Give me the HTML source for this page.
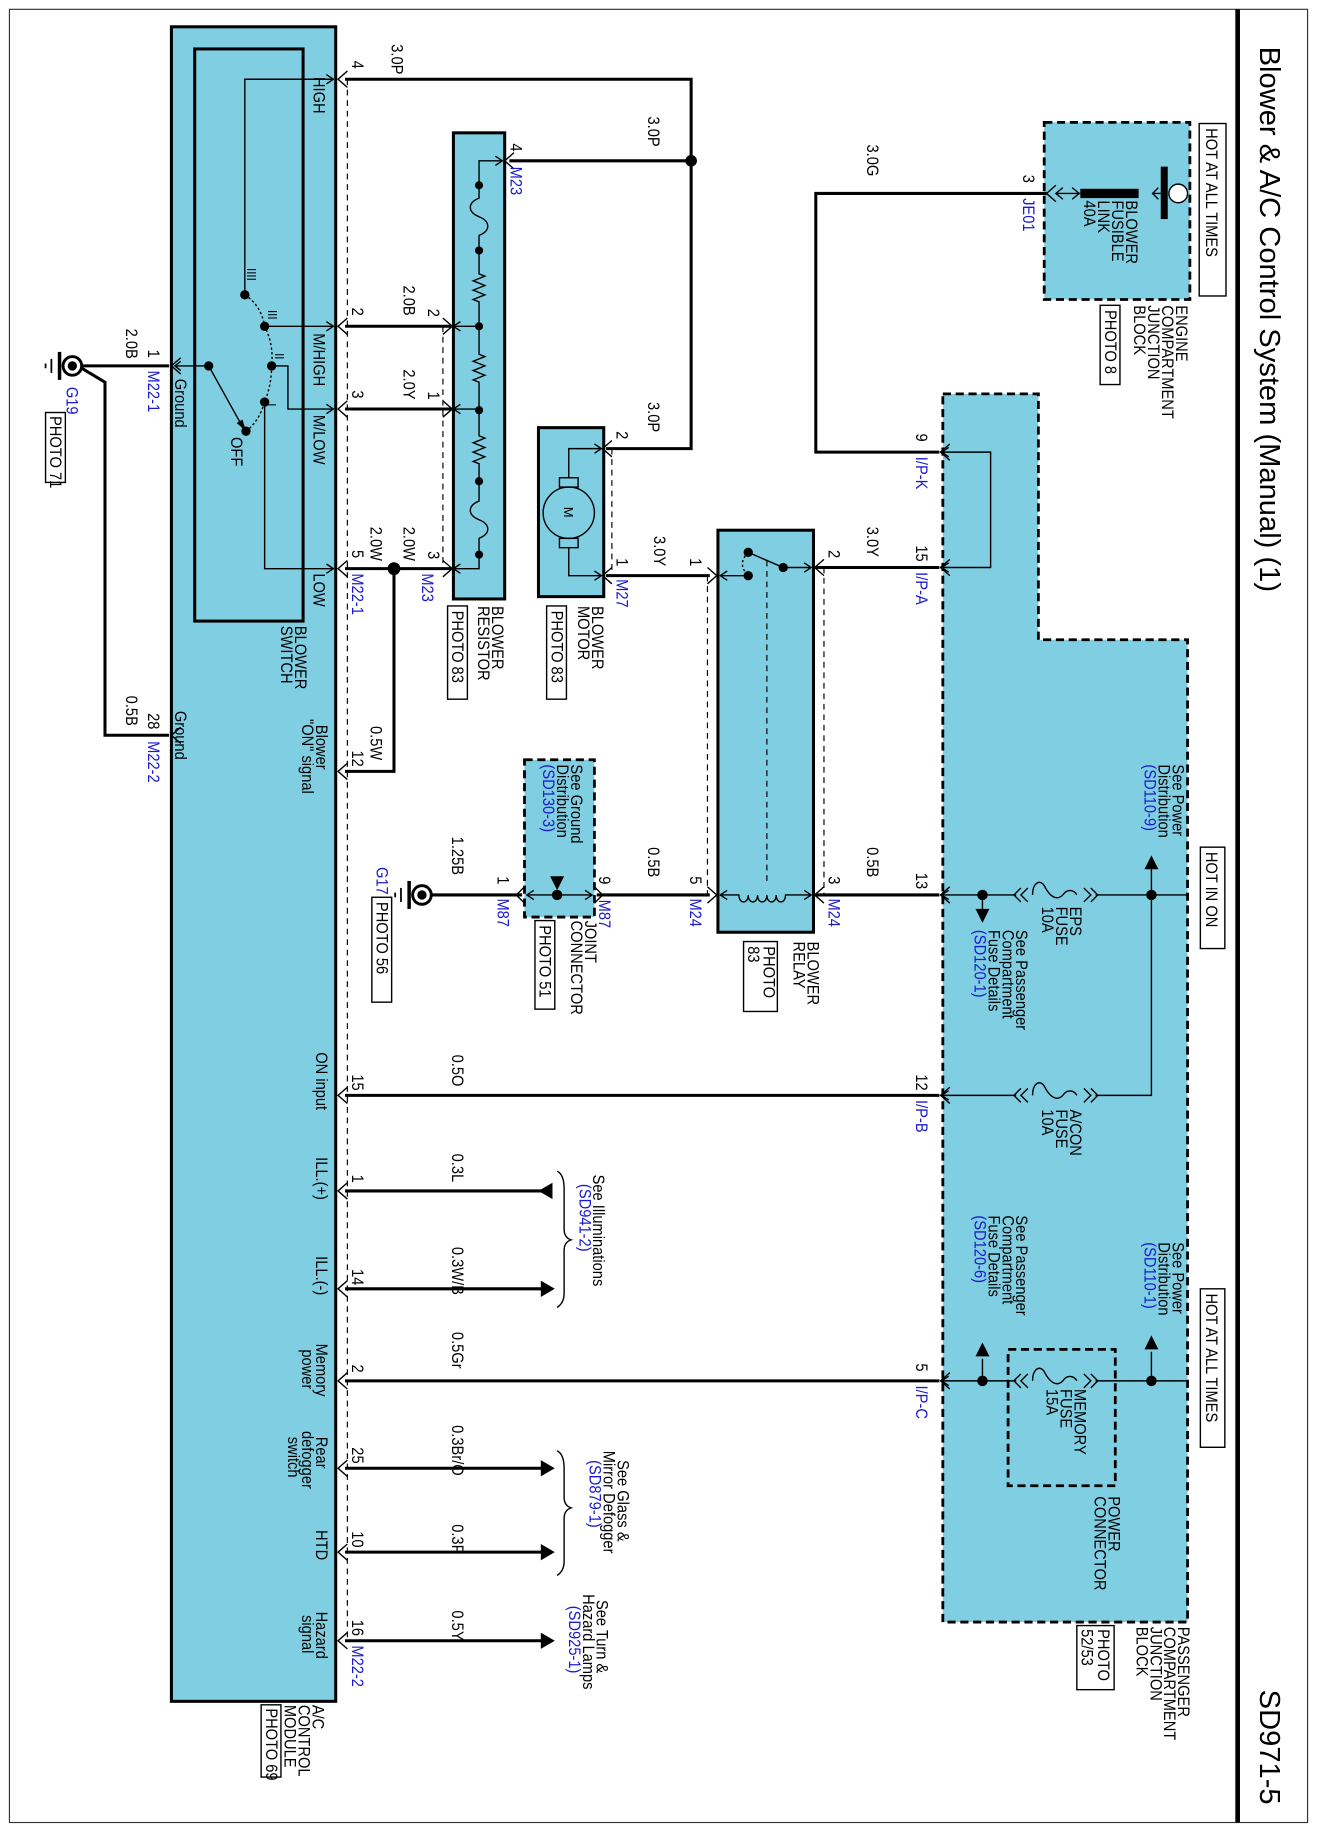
<!DOCTYPE html>
<html><head><meta charset="utf-8"><style>
html,body{margin:0;padding:0;background:#fff;}
svg{display:block;}
text{font-family:"Liberation Sans",Arial,sans-serif;font-size:14px;fill:#000;}
.b{fill:#1a1ad0;}
.w{stroke:#000;stroke-width:2.6;fill:none;}
.t{stroke:#000;stroke-width:1.2;fill:none;}
.d{stroke:#000;stroke-width:1;fill:none;stroke-dasharray:5,4;}
.db{stroke:#000;stroke-width:2.4;stroke-dasharray:7,4;}
</style></head><body>
<svg width="1317" height="1833" viewBox="0 0 1130 1573" xmlns="http://www.w3.org/2000/svg">
<rect x="0" y="0" width="1130" height="1573" fill="#fff"/>
<rect x="8" y="8" width="1114" height="1556" fill="none" stroke="#333" stroke-width="1"/>
<line x1="1062" y1="8" x2="1062" y2="1564" stroke="#000" stroke-width="4"/>
<text transform="translate(1081,40) rotate(90)" style="font-size:25px">Blower &amp; A/C Control System (Manual) (1)</text>
<text transform="translate(1081,1450) rotate(90)" style="font-size:25px">SD971-5</text>

<path d="M809,338 L891,338 L891,549 L1019,549 L1019,1392 L809,1392 Z" fill="#80cee2" class="db"/>
<rect x="896" y="105" width="125" height="152" fill="#80cee2" class="db"/>
<rect x="147" y="23" width="141" height="1437" fill="#80cee2" stroke="#000" stroke-width="2.6"/>
<rect x="167" y="42" width="93" height="491" fill="none" stroke="#000" stroke-width="2.6"/>
<rect x="389" y="114" width="44" height="400" fill="#80cee2" stroke="#000" stroke-width="2.6"/>
<rect x="462" y="367" width="56" height="145" fill="#80cee2" stroke="#000" stroke-width="2.6"/>
<rect x="616" y="455" width="82" height="345" fill="#80cee2" stroke="#000" stroke-width="2.6"/>
<rect x="450" y="652" width="60" height="135" fill="#80cee2" class="db"/>
<rect x="865" y="1158" width="92" height="117" fill="none" class="db"/>

<line x1="298" y1="68" x2="298" y2="1408" class="d"/>
<line x1="380" y1="280" x2="380" y2="488" class="d"/>
<line x1="525" y1="385" x2="525" y2="494" class="d"/>
<line x1="607" y1="494" x2="607" y2="768" class="d"/>
<line x1="707" y1="487" x2="707" y2="768" class="d"/>
<line x1="658" y1="481" x2="658" y2="760" class="d"/>

<path d="M296,68 H593 V385 H520" class="w"/>
<path d="M593,138 H437" class="w"/>
<circle cx="593" cy="138" r="5"/>
<path d="M296,280 H387 M296,351 H387 M296,488 H387" class="w"/>
<path d="M338,488 V662 H296" class="w"/>
<circle cx="338" cy="488" r="5.5"/>
<path d="M520,494 H609" class="w"/>
<path d="M700,487 H806" class="w"/>
<path d="M898,166 H700 V388 H806" class="w"/>
<path d="M700,768 H806" class="w"/>
<path d="M609,768 H512" class="w"/>
<path d="M448,768 H370" class="w"/>
<path d="M296,940 H806" class="w"/>
<path d="M296,1185 H806" class="w"/>
<path d="M296,1022 H470 M296,1106 H465 M296,1260 H465 M296,1332 H465 M296,1408 H465" class="w"/>
<polygon points="462,1022 474,1015 474,1029"/>
<polygon points="476,1106 464,1099 464,1113"/>
<polygon points="476,1260 464,1253 464,1267"/>
<polygon points="476,1332 464,1325 464,1339"/>
<polygon points="476,1408 464,1401 464,1415"/>
<path d="M478,1005 Q484,1008 484,1020 V1055 Q484,1062 490,1064 Q484,1066 484,1073 V1110 Q484,1118 478,1122" class="t"/>
<path d="M478,1245 Q484,1248 484,1260 V1285 Q484,1292 490,1294 Q484,1296 484,1303 V1340 Q484,1348 478,1352" class="t"/>
<path d="M70,314 H145 M70,316 L90,328 V631 H145" class="w"/>

<g class="t">
<path d="M298,61 L290,68 L298,75 M298,273 L290,280 L298,287 M298,344 L290,351 L298,358 M298,481 L290,488 L298,495 M298,655 L290,662 L298,669 M298,933 L290,940 L298,947 M298,1015 L290,1022 L298,1029 M298,1099 L290,1106 L298,1113 M298,1178 L290,1185 L298,1192 M298,1253 L290,1260 L298,1267 M298,1325 L290,1332 L298,1339 M298,1401 L290,1408 L298,1415"/>
<path d="M155,307 L147,314 L155,321 M155,624 L147,631 L155,638"/>
<path d="M441,131 L433,138 L441,145 M380,273 L388,280 L380,287 M380,344 L388,351 L380,358 M380,481 L388,488 L380,495"/>
<path d="M525,378 L517,385 L525,392 M525,487 L517,494 L525,501"/>
<path d="M607,487 L615,494 L607,501 M707,480 L699,487 L707,494 M607,761 L615,768 L607,775 M707,761 L699,768 L707,775"/>
<path d="M450,761 L443,768 L450,775 M510,761 L517,768 L510,775"/>
<path d="M815,381 L807,388 L815,395 M815,480 L807,487 L815,494 M815,761 L807,768 L815,775 M815,933 L807,940 L815,947 M815,1178 L807,1185 L815,1192"/>
<path d="M906,159 L898,166 L906,173"/>
</g>

<g class="t">
<path d="M286,68 H210 V253"/><path d="M280,64 L286,68 L280,72"/>
<path d="M227,280 H286"/><path d="M280,276 L286,280 L280,284"/>
<path d="M233,314 H247 V351 H286"/><path d="M280,347 L286,351 L280,355"/>
<path d="M227,345 V488 H286"/><path d="M280,484 L286,488 L280,492"/>
<path d="M150,314 H179 L209,368"/><path d="M155,310 L150,314 L155,318"/>
<path d="M210,253 Q224,262 227,280 Q235,296 233,314 Q233,330 227,345 Q222,362 211,370" stroke-dasharray="2,2"/>
</g>
<polygon points="211,370 203,363 208,360"/>
<circle cx="210" cy="253" r="4"/><circle cx="227" cy="280" r="4"/><circle cx="233" cy="314" r="4"/><circle cx="227" cy="345" r="4"/><circle cx="179" cy="314" r="4"/><circle cx="211" cy="370" r="4"/>
<text transform="translate(212,230) rotate(90) scale(0.9,1)" style="font-size:11px">IIII</text>
<text transform="translate(230,266) rotate(90) scale(0.9,1)" style="font-size:11px">III</text>
<text transform="translate(236,303) rotate(90) scale(0.9,1)" style="font-size:11px">II</text>
<text transform="translate(229,346) rotate(90) scale(0.9,1)" style="font-size:11px">I</text>
<text transform="translate(198,375) rotate(90) scale(0.9,1)">OFF</text>

<g class="t">
<path d="M431,138 H411 V170 c-10,4 -10,12 0,16 c10,4 10,12 0,16 V235 l5,2 l-10,4 l10,4 l-10,4 l10,4 l-10,4 l5,2 V304 l5,2 l-10,4 l10,4 l-10,4 l10,4 l-10,4 l5,2 V374 l5,2 l-10,4 l10,4 l-10,4 l10,4 l-10,4 l5,2 V430 c-10,4 -10,12 0,16 c10,4 10,12 0,16 V488 H389"/>
<path d="M411,280 H389 M411,351 H389"/>
<path d="M425,134 L431,138 L425,142 M395,276 L389,280 L395,284 M395,347 L389,351 L395,355 M395,484 L389,488 L395,492"/>
</g>
<circle cx="411" cy="159" r="3.5"/><circle cx="411" cy="215" r="3.5"/><circle cx="411" cy="280" r="3.5"/><circle cx="411" cy="352" r="3.5"/><circle cx="411" cy="413" r="3.5"/><circle cx="411" cy="476" r="3.5"/>

<g class="t">
<path d="M516,385 H488 V410 M488,470 V494 H516 M510,381 L516,385 L510,389 M510,490 L516,494 L510,498"/>
<circle cx="488" cy="440" r="22"/>
<rect x="480" y="410" width="16" height="8"/><rect x="480" y="462" width="16" height="8"/>
</g>
<text transform="translate(484,435) rotate(90)" style="font-size:11px">M</text>

<g class="t">
<path d="M642,474 L672,487 H696 M690,483 L696,487 L690,491 M642,494 H618 M624,490 L618,494 L624,498"/>
<path d="M642,474 Q632,484 642,494" stroke-dasharray="2,2"/>
<path d="M618,768 H634 c0,8 8,8 8,0 c0,8 8,8 8,0 c0,8 8,8 8,0 c0,8 8,8 8,0 c0,8 8,8 8,0 H696 M624,764 L618,768 L624,772 M690,764 L696,768 L690,772"/>
</g>
<circle cx="642" cy="474" r="4"/><circle cx="672" cy="487" r="4"/><circle cx="642" cy="494" r="4"/>

<g class="t"><path d="M452,768 H508 M458,764 L452,768 L458,772 M502,764 L508,768 L502,772"/></g>
<circle cx="478" cy="768" r="4.5"/>
<polygon points="478,764 472,752 484,752"/>

<g>
<circle cx="62" cy="314" r="8" fill="none" stroke="#000" stroke-width="2.5"/><circle cx="62" cy="314" r="4"/>
<line x1="51" y1="302" x2="51" y2="326" stroke="#000" stroke-width="3"/>
<line x1="44" y1="308" x2="44" y2="320" stroke="#000" stroke-width="1.5"/>
<line x1="39" y1="312" x2="39" y2="316" stroke="#000" stroke-width="1.5"/>
<circle cx="362" cy="768" r="8" fill="none" stroke="#000" stroke-width="2.5"/><circle cx="362" cy="768" r="4"/>
<line x1="351" y1="756" x2="351" y2="780" stroke="#000" stroke-width="3"/>
<line x1="344" y1="762" x2="344" y2="774" stroke="#000" stroke-width="1.5"/>
<line x1="339" y1="766" x2="339" y2="770" stroke="#000" stroke-width="1.5"/>
</g>

<circle cx="1011" cy="166" r="8" fill="#fff" stroke="#000" stroke-width="1.2"/>
<rect x="996" y="143" width="6" height="45"/>
<rect x="927" y="162" width="50" height="8"/>
<g class="t"><path d="M906,166 H927 M912,161 L906,166 L912,171 M920,161 L926,166 L920,171 M996,166 H989 M994,161 L989,166 L994,171"/></g>
<rect x="1029" y="106" width="23" height="148" fill="#fff" stroke="#000" stroke-width="1.2"/>

<g class="t">
<path d="M808,388 H850 V487 H808 M814,384 L808,388 L814,392 M814,483 L808,487 L814,491"/>
<path d="M808,768 H872 M886,768 c0,-10 6,-14 10,-8 c4,8 10,14 16,8 c4,-6 10,-4 12,0 M940,768 H1019 M843,768 V784 M988,768 V746 M988,768 V940 H940 M872,940 H808"/>
<path d="M876,762 L870,768 L876,774 M882,762 L876,768 L882,774 M930,762 L936,768 L930,774 M936,762 L942,768 L936,774"/>
<path d="M886,940 c0,-10 6,-14 10,-8 c4,8 10,14 16,8 c4,-6 10,-4 12,0"/>
<path d="M876,934 L870,940 L876,946 M882,934 L876,940 L882,946 M930,934 L936,940 L930,946 M936,934 L942,940 L936,946"/>
<path d="M814,764 L808,768 L814,772 M814,936 L808,940 L814,944"/>
<path d="M808,1185 H872 M940,1185 H1019 M843,1185 V1166 M988,1185 V1160"/>
<path d="M886,1185 c0,-10 6,-14 10,-8 c4,8 10,14 16,8 c4,-6 10,-4 12,0"/>
<path d="M876,1179 L870,1185 L876,1191 M882,1179 L876,1185 L882,1191 M930,1179 L936,1185 L930,1191 M936,1179 L942,1185 L936,1191 M814,1181 L808,1185 L814,1189"/>
</g>
<circle cx="843" cy="768" r="4.5"/><circle cx="988" cy="768" r="4.5"/><circle cx="843" cy="1185" r="4.5"/><circle cx="988" cy="1185" r="4.5"/>
<polygon points="843,792 837,780 849,780"/>
<polygon points="988,734 982,746 994,746"/>
<polygon points="843,1152 837,1164 849,1164"/>
<polygon points="988,1146 982,1158 994,1158"/>
<rect x="1030" y="727" width="21" height="87" fill="#fff" stroke="#000" stroke-width="1.2"/>
<rect x="1030" y="1106" width="21" height="136" fill="#fff" stroke="#000" stroke-width="1.2"/>

<g fill="#fff" stroke="#000" stroke-width="1.2">
<rect x="39" y="354" width="17" height="60"/>
<rect x="384" y="520" width="17" height="80"/>
<rect x="469" y="520" width="17" height="80"/>
<rect x="638" y="808" width="29" height="60"/>
<rect x="459" y="790" width="17" height="76"/>
<rect x="319" y="770" width="17" height="90"/>
<rect x="944" y="262" width="17" height="68"/>
<rect x="924" y="1395" width="32" height="55"/>
<rect x="224" y="1463" width="17" height="62"/>
</g>

<g>
<text transform="translate(1035,110) rotate(90) scale(0.9,1)">HOT AT ALL TIMES</text>
<text transform="translate(1035,731) rotate(90) scale(0.9,1)">HOT IN ON</text>
<text transform="translate(1035,1110) rotate(90) scale(0.9,1)">HOT AT ALL TIMES</text>
<text transform="translate(43,357) rotate(90) scale(0.9,1)">PHOTO 71</text>
<text transform="translate(388,524) rotate(90) scale(0.9,1)">PHOTO 83</text>
<text transform="translate(473,524) rotate(90) scale(0.9,1)">PHOTO 83</text>
<text transform="translate(655,812) rotate(90) scale(0.9,1)">PHOTO</text>
<text transform="translate(642,812) rotate(90) scale(0.9,1)">83</text>
<text transform="translate(463,794) rotate(90) scale(0.9,1)">PHOTO 51</text>
<text transform="translate(323,774) rotate(90) scale(0.9,1)">PHOTO 56</text>
<text transform="translate(948,266) rotate(90) scale(0.9,1)">PHOTO 8</text>
<text transform="translate(942,1398) rotate(90) scale(0.9,1)">PHOTO</text>
<text transform="translate(928,1398) rotate(90) scale(0.9,1)">52/53</text>
<text transform="translate(228,1466) rotate(90) scale(0.9,1)">PHOTO 69</text>

<text transform="translate(268,1463) rotate(90) scale(0.9,1)">A/C</text>
<text transform="translate(256,1463) rotate(90) scale(0.9,1)">CONTROL</text>
<text transform="translate(244,1463) rotate(90) scale(0.9,1)">MODULE</text>

<text transform="translate(1009,262) rotate(90) scale(0.9,1)">ENGINE</text>
<text transform="translate(997,262) rotate(90) scale(0.9,1)">COMPARTMENT</text>
<text transform="translate(985,262) rotate(90) scale(0.9,1)">JUNCTION</text>
<text transform="translate(973,262) rotate(90) scale(0.9,1)">BLOCK</text>
<text transform="translate(966,172) rotate(90) scale(0.9,1)">BLOWER</text>
<text transform="translate(954,172) rotate(90) scale(0.9,1)">FUSIBLE</text>
<text transform="translate(942,172) rotate(90) scale(0.9,1)">LINK</text>
<text transform="translate(930,172) rotate(90) scale(0.9,1)">40A</text>

<text transform="translate(1011,1396) rotate(90) scale(0.9,1)">PASSENGER</text>
<text transform="translate(999,1396) rotate(90) scale(0.9,1)">COMPARTMENT</text>
<text transform="translate(987,1396) rotate(90) scale(0.9,1)">JUNCTION</text>
<text transform="translate(975,1396) rotate(90) scale(0.9,1)">BLOCK</text>
<text transform="translate(951,1284) rotate(90) scale(0.9,1)">POWER</text>
<text transform="translate(939,1284) rotate(90) scale(0.9,1)">CONNECTOR</text>
<text transform="translate(922,1192) rotate(90) scale(0.9,1)">MEMORY</text>
<text transform="translate(910,1192) rotate(90) scale(0.9,1)">FUSE</text>
<text transform="translate(898,1192) rotate(90) scale(0.9,1)">15A</text>
<text transform="translate(918,778) rotate(90) scale(0.9,1)">EPS</text>
<text transform="translate(906,778) rotate(90) scale(0.9,1)">FUSE</text>
<text transform="translate(894,778) rotate(90) scale(0.9,1)">10A</text>
<text transform="translate(918,952) rotate(90) scale(0.9,1)">A/CON</text>
<text transform="translate(906,952) rotate(90) scale(0.9,1)">FUSE</text>
<text transform="translate(894,952) rotate(90) scale(0.9,1)">10A</text>
<text transform="translate(1006,656) rotate(90) scale(0.9,1)">See Power</text>
<text transform="translate(994,656) rotate(90) scale(0.9,1)">Distribution</text>
<text transform="translate(982,656) rotate(90) scale(0.9,1)" class="b">(SD110-9)</text>
<text transform="translate(1006,1066) rotate(90) scale(0.9,1)">See Power</text>
<text transform="translate(994,1066) rotate(90) scale(0.9,1)">Distribution</text>
<text transform="translate(982,1066) rotate(90) scale(0.9,1)" class="b">(SD110-1)</text>
<text transform="translate(872,798) rotate(90) scale(0.9,1)">See Passenger</text>
<text transform="translate(860,798) rotate(90) scale(0.9,1)">Compartment</text>
<text transform="translate(848,798) rotate(90) scale(0.9,1)">Fuse Details</text>
<text transform="translate(836,798) rotate(90) scale(0.9,1)" class="b">(SD120-1)</text>
<text transform="translate(872,1043) rotate(90) scale(0.9,1)">See Passenger</text>
<text transform="translate(860,1043) rotate(90) scale(0.9,1)">Compartment</text>
<text transform="translate(848,1043) rotate(90) scale(0.9,1)">Fuse Details</text>
<text transform="translate(836,1043) rotate(90) scale(0.9,1)" class="b">(SD120-6)</text>

<text transform="translate(693,808) rotate(90) scale(0.9,1)">BLOWER</text>
<text transform="translate(681,808) rotate(90) scale(0.9,1)">RELAY</text>
<text transform="translate(502,790) rotate(90) scale(0.9,1)">JOINT</text>
<text transform="translate(490,790) rotate(90) scale(0.9,1)">CONNECTOR</text>
<text transform="translate(490,656) rotate(90) scale(0.9,1)">See Ground</text>
<text transform="translate(478,656) rotate(90) scale(0.9,1)">Distribution</text>
<text transform="translate(466,656) rotate(90) scale(0.9,1)" class="b">(SD130-3)</text>
<text transform="translate(422,520) rotate(90) scale(0.9,1)">BLOWER</text>
<text transform="translate(410,520) rotate(90) scale(0.9,1)">RESISTOR</text>
<text transform="translate(508,520) rotate(90) scale(0.9,1)">BLOWER</text>
<text transform="translate(496,520) rotate(90) scale(0.9,1)">MOTOR</text>
<text transform="translate(253,537) rotate(90) scale(0.9,1)">BLOWER</text>
<text transform="translate(241,537) rotate(90) scale(0.9,1)">SWITCH</text>

<text transform="translate(509,1008) rotate(90) scale(0.9,1)">See Illuminations</text>
<text transform="translate(497,1016) rotate(90) scale(0.9,1)" class="b">(SD941-2)</text>
<text transform="translate(530,1253) rotate(90) scale(0.9,1)">See Glass &amp;</text>
<text transform="translate(518,1245) rotate(90) scale(0.9,1)">Mirror Defogger</text>
<text transform="translate(506,1253) rotate(90) scale(0.9,1)" class="b">(SD879-1)</text>
<text transform="translate(512,1373) rotate(90) scale(0.9,1)">See Turn &amp;</text>
<text transform="translate(500,1368) rotate(90) scale(0.9,1)">Hazard Lamps</text>
<text transform="translate(488,1378) rotate(90) scale(0.9,1)" class="b">(SD925-1)</text>

<text transform="translate(269,66) rotate(90) scale(0.9,1)">HIGH</text>
<text transform="translate(269,286) rotate(90) scale(0.9,1)">M/HIGH</text>
<text transform="translate(269,356) rotate(90) scale(0.9,1)">M/LOW</text>
<text transform="translate(269,492) rotate(90) scale(0.9,1)">LOW</text>
<text transform="translate(150,325) rotate(90) scale(0.9,1)">Ground</text>
<text transform="translate(150,610) rotate(90) scale(0.9,1)">Ground</text>
<text transform="translate(271,622) rotate(90) scale(0.9,1)">Blower</text>
<text transform="translate(259,617) rotate(90) scale(0.9,1)">"ON" signal</text>
<text transform="translate(271,903) rotate(90) scale(0.9,1)">ON input</text>
<text transform="translate(271,993) rotate(90) scale(0.9,1)">ILL.(+)</text>
<text transform="translate(271,1078) rotate(90) scale(0.9,1)">ILL.(-)</text>
<text transform="translate(271,1153) rotate(90) scale(0.9,1)">Memory</text>
<text transform="translate(259,1158) rotate(90) scale(0.9,1)">power</text>
<text transform="translate(271,1233) rotate(90) scale(0.9,1)">Rear</text>
<text transform="translate(259,1228) rotate(90) scale(0.9,1)">defogger</text>
<text transform="translate(247,1233) rotate(90) scale(0.9,1)">switch</text>
<text transform="translate(271,1313) rotate(90) scale(0.9,1)">HTD</text>
<text transform="translate(271,1383) rotate(90) scale(0.9,1)">Hazard</text>
<text transform="translate(259,1386) rotate(90) scale(0.9,1)">signal</text>

<text transform="translate(302,52) rotate(90) scale(0.9,1)">4</text>
<text transform="translate(302,264) rotate(90) scale(0.9,1)">2</text>
<text transform="translate(302,335) rotate(90) scale(0.9,1)">3</text>
<text transform="translate(302,472) rotate(90) scale(0.9,1)">5</text>
<text transform="translate(302,644) rotate(90) scale(0.9,1)">12</text>
<text transform="translate(302,922) rotate(90) scale(0.9,1)">15</text>
<text transform="translate(302,1008) rotate(90) scale(0.9,1)">1</text>
<text transform="translate(302,1089) rotate(90) scale(0.9,1)">14</text>
<text transform="translate(302,1171) rotate(90) scale(0.9,1)">2</text>
<text transform="translate(302,1242) rotate(90) scale(0.9,1)">25</text>
<text transform="translate(302,1314) rotate(90) scale(0.9,1)">10</text>
<text transform="translate(302,1390) rotate(90) scale(0.9,1)">16</text>
<text transform="translate(302,1412) rotate(90) scale(0.9,1)" class="b">M22-2</text>
<text transform="translate(302,492) rotate(90) scale(0.9,1)" class="b">M22-1</text>
<text transform="translate(127,300) rotate(90) scale(0.9,1)">1</text>
<text transform="translate(127,318) rotate(90) scale(0.9,1)" class="b">M22-1</text>
<text transform="translate(127,612) rotate(90) scale(0.9,1)">28</text>
<text transform="translate(127,636) rotate(90) scale(0.9,1)" class="b">M22-2</text>
<text transform="translate(57,332) rotate(90) scale(0.9,1)" class="b">G19</text>
<text transform="translate(323,744) rotate(90) scale(0.9,1)" class="b">G17</text>
<text transform="translate(438,123) rotate(90) scale(0.9,1)">4</text>
<text transform="translate(438,143) rotate(90) scale(0.9,1)" class="b">M23</text>
<text transform="translate(367,265) rotate(90) scale(0.9,1)">2</text>
<text transform="translate(367,336) rotate(90) scale(0.9,1)">1</text>
<text transform="translate(367,473) rotate(90) scale(0.9,1)">3</text>
<text transform="translate(362,492) rotate(90) scale(0.9,1)" class="b">M23</text>
<text transform="translate(529,370) rotate(90) scale(0.9,1)">2</text>
<text transform="translate(529,479) rotate(90) scale(0.9,1)">1</text>
<text transform="translate(529,497) rotate(90) scale(0.9,1)" class="b">M27</text>
<text transform="translate(592,479) rotate(90) scale(0.9,1)">1</text>
<text transform="translate(711,472) rotate(90) scale(0.9,1)">2</text>
<text transform="translate(592,752) rotate(90) scale(0.9,1)">5</text>
<text transform="translate(592,771) rotate(90) scale(0.9,1)" class="b">M24</text>
<text transform="translate(711,752) rotate(90) scale(0.9,1)">3</text>
<text transform="translate(711,771) rotate(90) scale(0.9,1)" class="b">M24</text>
<text transform="translate(514,752) rotate(90) scale(0.9,1)">9</text>
<text transform="translate(514,772) rotate(90) scale(0.9,1)" class="b">M87</text>
<text transform="translate(427,752) rotate(90) scale(0.9,1)">1</text>
<text transform="translate(427,771) rotate(90) scale(0.9,1)" class="b">M87</text>
<text transform="translate(786,372) rotate(90) scale(0.9,1)">9</text>
<text transform="translate(786,392) rotate(90) scale(0.9,1)" class="b">I/P-K</text>
<text transform="translate(786,468) rotate(90) scale(0.9,1)">15</text>
<text transform="translate(786,491) rotate(90) scale(0.9,1)" class="b">I/P-A</text>
<text transform="translate(786,749) rotate(90) scale(0.9,1)">13</text>
<text transform="translate(786,922) rotate(90) scale(0.9,1)">12</text>
<text transform="translate(786,944) rotate(90) scale(0.9,1)" class="b">I/P-B</text>
<text transform="translate(786,1170) rotate(90) scale(0.9,1)">5</text>
<text transform="translate(786,1189) rotate(90) scale(0.9,1)" class="b">I/P-C</text>
<text transform="translate(878,150) rotate(90) scale(0.9,1)">3</text>
<text transform="translate(878,170) rotate(90) scale(0.9,1)" class="b">JE01</text>

<text transform="translate(336,38) rotate(90) scale(0.9,1)">3.0P</text>
<text transform="translate(556,100) rotate(90) scale(0.9,1)">3.0P</text>
<text transform="translate(556,345) rotate(90) scale(0.9,1)">3.0P</text>
<text transform="translate(744,124) rotate(90) scale(0.9,1)">3.0G</text>
<text transform="translate(346,245) rotate(90) scale(0.9,1)">2.0B</text>
<text transform="translate(346,317) rotate(90) scale(0.9,1)">2.0Y</text>
<text transform="translate(346,452) rotate(90) scale(0.9,1)">2.0W</text>
<text transform="translate(318,452) rotate(90) scale(0.9,1)">2.0W</text>
<text transform="translate(318,623) rotate(90) scale(0.9,1)">0.5W</text>
<text transform="translate(108,282) rotate(90) scale(0.9,1)">2.0B</text>
<text transform="translate(108,597) rotate(90) scale(0.9,1)">0.5B</text>
<text transform="translate(561,460) rotate(90) scale(0.9,1)">3.0Y</text>
<text transform="translate(744,452) rotate(90) scale(0.9,1)">3.0Y</text>
<text transform="translate(744,727) rotate(90) scale(0.9,1)">0.5B</text>
<text transform="translate(556,727) rotate(90) scale(0.9,1)">0.5B</text>
<text transform="translate(388,718) rotate(90) scale(0.9,1)">1.25B</text>
<text transform="translate(388,905) rotate(90) scale(0.9,1)">0.5O</text>
<text transform="translate(388,990) rotate(90) scale(0.9,1)">0.3L</text>
<text transform="translate(388,1070) rotate(90) scale(0.9,1)">0.3W/B</text>
<text transform="translate(388,1143) rotate(90) scale(0.9,1)">0.5Gr</text>
<text transform="translate(388,1223) rotate(90) scale(0.9,1)">0.3Br/O</text>
<text transform="translate(388,1308) rotate(90) scale(0.9,1)">0.3P</text>
<text transform="translate(388,1382) rotate(90) scale(0.9,1)">0.5Y</text>
</g>
</svg>
</body></html>
